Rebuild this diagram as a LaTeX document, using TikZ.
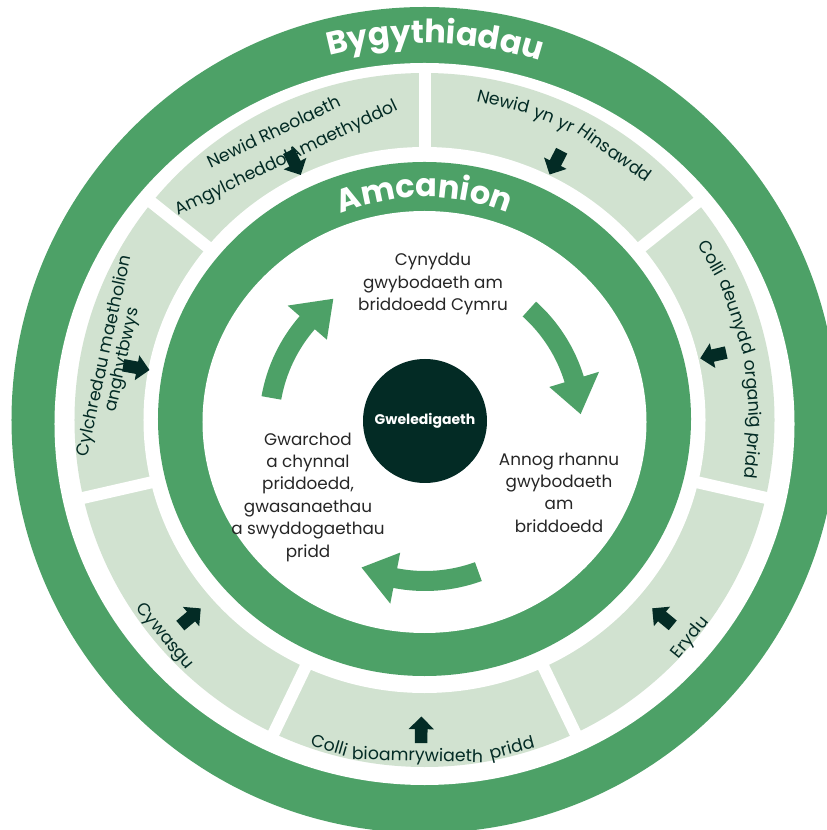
\documentclass[tikz,border=0pt]{standalone}
\usepackage{fontspec}
\setmainfont{Poppins}
\usetikzlibrary{shapes.arrows,decorations.text}
\definecolor{ringgreen}{RGB}{77,161,103}
\definecolor{bandlight}{RGB}{209,226,208}
\definecolor{deepgreen}{RGB}{3,43,37}
\definecolor{inkgrey}{RGB}{38,38,38}
\newcommand\titlefont{\fontsize{24}{24}\selectfont\bfseries}

\begin{document}
\begin{tikzpicture}[x=0.75pt, y=0.75pt,
        goal/.style={align=center, text=inkgrey, font=\fontsize{12.6}{16.8}\selectfont},
        threat/.style={align=center, text=deepgreen, font=\fontsize{13}{21}\selectfont},
        threatword/.style={threat, anchor=base, inner sep=0pt},
        threatarrow/.style={single arrow, fill=deepgreen, inner xsep=0pt, inner ysep=4.5pt, minimum height=20pt, single arrow head extend=4.8pt},
        cyclearrow/.style={fill=ringgreen},
        ringtext/.style={decorate, decoration={text along path, text align=center, text color=white}}
    ]
        \useasboundingbox (-424.5,-410) rectangle (401.5,420);

        % outer ring and band of threats
        \fill[ringgreen] (0,0) circle (413);
        \fill[white] (0,-4) ellipse [x radius=370, y radius=361];
        \fill[bandlight] (0,0) ellipse [x radius=350, y radius=347];
        \fill[white] (0,0) ellipse [x radius=281, y radius=273];
        \foreach \g in {0,...,6}
            \draw[white, line width=9pt] ({90+\g*360/7}:270) -- ({90+\g*360/7}:355);

        % ring of aims
        \fill[ringgreen] (0,1) ellipse [x radius=266.5, y radius=257];
        \fill[white] (0,-2) ellipse [x radius=222, y radius=211];

        \path[ringtext, decoration={text={|\titlefont|Bygythiadau}}] (158.4:377) arc[start angle=158.4, end angle=18.4, radius=377];
        \path[ringtext, decoration={text={|\titlefont|Amcanion}}, shift={(0,1)}] (150:222) arc[start angle=150, end angle=30, radius=222];

        % threats
        \node[threat, rotate=25.5] (mgmt) at (-144.2,274) {Newid Rheolaeth\\AmgylcheddolAmaethyddol};
        \node[threat, rotate=77.7, font=\fontsize{13}{13.5}\selectfont] (cycles) at (-310.5,62) {Cylchredau maetholion\\anghytbwys};
        \foreach \w/\a [count=\i] in {Newid/76.1, yn/68.6, yr/64.4, Hinsawdd/54.5}
            \node[threatword, rotate=\a-90] (climate\i) at (\a:322) {\w};
        \foreach \w/\a [count=\i] in {Colli/29.4, deunydd/18.3, organig/4.5, pridd/-6.2}
            \node[threatword, rotate=\a-90] (organic\i) at (\a:324) {\w};
        \foreach \w/\a/\r [count=\i] in {Colli/-106.3/345, bioamrywiaeth/-91.2/341, pridd/-75.1/345}
            \node[threatword, rotate=\a+90] (biodiv\i) at (\a:\r) {\w};
        \node[threat, rotate=50.7] (erosion) at (-39.3:344) {Erydu};
        \node[threat, rotate=-50.2] (compaction) at (-140.2:339) {Cywasgu};

        \foreach \a/\r [count=\i] in {116.8/291, 63/292, 12.6/299, -39.6/312, -90.6/313, -139.9/309, 169.7/296}
            \node[threatarrow, rotate=\a+180] (push\i) at (\a:\r) {};

        % aims and vision
        \foreach \s [evaluate=\s as \e using \s-31, evaluate=\s as \t using \s-44] in {48,170,290}
            \fill[cyclearrow, shift={(0.5,-5)}] (\s:146) arc[start angle=\s, end angle=\e, radius=146] -- (\e:130) -- (\t:156) -- (\e:182) -- (\e:166) arc[start angle=\e, end angle=\s, radius=166] -- cycle;

        \node[goal] (grow) at (8.5,136) {Cynyddu\\gwybodaeth am\\briddoedd Cymru};
        \node[goal] (share) at (134.5,-72.5) {Annog rhannu\\gwybodaeth\\am\\briddoedd};
        \node[goal] (protect) at (-116.5,-77) {Gwarchod\\a chynnal\\priddoedd,\\gwasanaethau\\a swyddogaethau\\pridd};

        \node[circle, fill=deepgreen, minimum size=93pt, inner sep=0pt, text=white, font=\fontsize{10.5}{12}\selectfont\bfseries] (vision) at (0.5,-1) {Gweledigaeth};
    \end{tikzpicture}
\end{document}
